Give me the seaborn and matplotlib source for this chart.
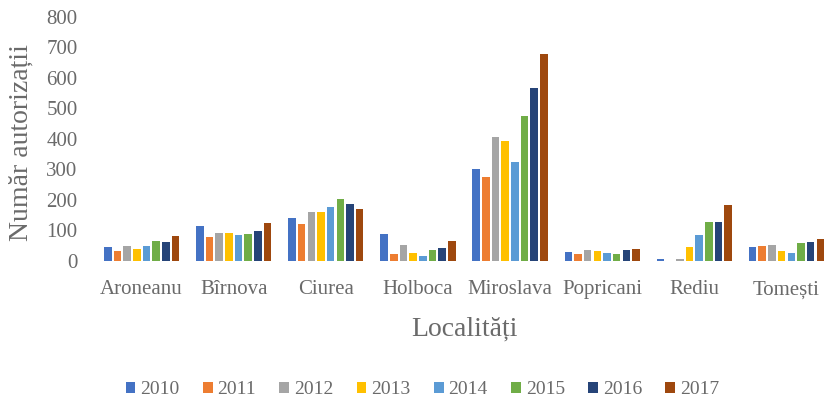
import matplotlib
matplotlib.use("Agg")
import matplotlib.pyplot as plt
import seaborn as sns
import pandas as pd

# Localities and yearly number of building permits
localitati = ["Aroneanu", "Bîrnova", "Ciurea", "Holboca", "Miroslava",
              "Popricani", "Rediu", "Tomești"]
ani = ["2010", "2011", "2012", "2013", "2014", "2015", "2016", "2017"]

v2010 = [45, 115, 142, 90, 302, 28, 8, 45]
v2011 = [33, 80, 121, 23, 277, 24, 0, 49]
v2012 = [50, 91, 161, 52, 405, 36, 6, 52]
v2013 = [39, 91, 161, 26, 395, 32, 45, 33]
v2014 = [48, 85, 177, 17, 324, 26, 86, 26]
v2015 = [67, 87, 203, 37, 477, 24, 127, 58]
v2016 = [61, 98, 188, 44, 568, 36, 127, 63]
v2017 = [82, 126, 171, 65, 680, 38, 184, 71]

serii = [v2010, v2011, v2012, v2013, v2014, v2015, v2016, v2017]
culori = ["#4472C4", "#ED7D31", "#A5A5A5", "#FFC000",
          "#5B9BD5", "#70AD47", "#264478", "#9E480E"]

rows = []
for an, valori in zip(ani, serii):
    for loc, v in zip(localitati, valori):
        rows.append({"Localitate": loc, "An": an, "Numar": v})
df = pd.DataFrame(rows)

sns.set_theme(style="white")
plt.rcParams["font.family"] = ["Liberation Serif", "DejaVu Serif"]
gri = "#6a6a6a"

fig = plt.figure(figsize=(8.25, 3.97), dpi=100)
ax = fig.add_axes([0.1158, 0.3426, 0.8933, 0.6146])

sns.barplot(data=df, x="Localitate", y="Numar", hue="An", order=localitati,
            hue_order=ani, palette=culori, saturation=1, width=0.84, gap=0.22,
            ax=ax, errorbar=None, linewidth=0)

ax.set_xlim(-0.5, len(localitati) - 0.5)
ax.set_ylim(0, 800)
ax.set_yticks(range(0, 801, 100))
for s in ax.spines.values():
    s.set_visible(False)
ax.tick_params(axis="both", length=0, labelsize=15, labelcolor=gri)
ax.tick_params(axis="y", pad=13)
ax.tick_params(axis="x", pad=14)

ax.set_xlabel("Localități", fontsize=20, color=gri, labelpad=12)
ax.set_ylabel("")
fig.text(0.025, 0.64, "Număr autorizații", rotation=90, fontsize=20,
         color=gri, ha="center", va="center")

handles, labels = ax.get_legend_handles_labels()
ax.get_legend().remove()
fig.legend(handles, labels, loc="center", bbox_to_anchor=(0.512, 0.018),
           ncol=8, frameon=False, fontsize=14, labelcolor=gri,
           handlelength=0.5, handleheight=0.5, handletextpad=0.25,
           columnspacing=1.2, borderaxespad=0)

fig.savefig("out.png", dpi=100, facecolor="white")
